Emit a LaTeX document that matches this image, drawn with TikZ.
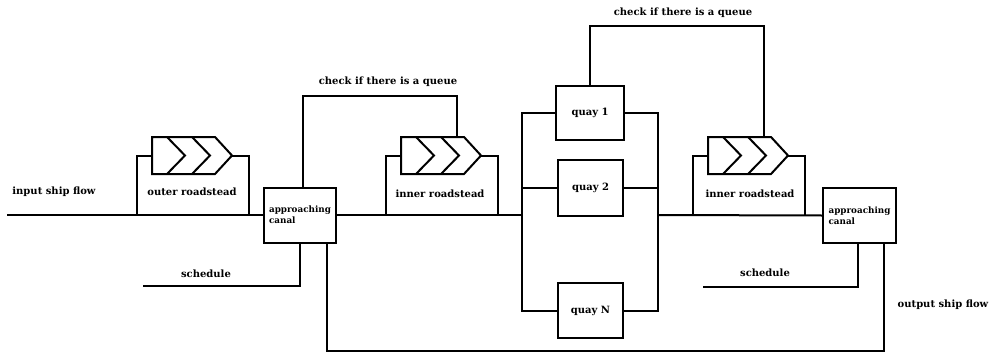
\documentclass[tikz,border=0pt]{standalone}
\usepackage{fontspec}
\setmainfont{DejaVu Serif}
\begin{document}
\begin{tikzpicture}[x=1pt,y=-1pt,line width=2pt,line join=miter,
  lbl/.style={font=\bfseries\fontsize{10}{11.5}\selectfont,inner sep=0pt},
  canal/.style={font=\bfseries\fontsize{8.8}{11}\selectfont,align=left},
  blk/.style={draw,rectangle,inner sep=0pt,line width=2pt},
  qbox/.style={rectangle,inner sep=0pt,minimum width=78pt,minimum height=35pt}]
\useasboundingbox (0,0) rectangle (995,353);

% waiting-area queue symbol: box with pointed head and two chevrons
\newcommand\qsym[1]{%
  \draw (#1.north west) -- ([xshift=63pt]#1.north west) -- (#1.east)
        -- ([xshift=63pt]#1.south west) -- (#1.south west) -- cycle;
  \draw ([xshift=15pt]#1.north west) -- ([xshift=33pt]#1.west) -- ([xshift=15pt]#1.south west);
  \draw ([xshift=40pt]#1.north west) -- ([xshift=58pt]#1.west) -- ([xshift=40pt]#1.south west);}

% canal boxes
\node[blk,canal,minimum width=72pt,minimum height=55pt] (ac1) at (300,215) {approaching\\canal};
\node[blk,canal,minimum width=73pt,minimum height=55pt] (ac2) at (859.5,215.5) {approaching\\canal};

% quays
\node[blk,lbl,minimum width=68pt,minimum height=54pt] (q1) at (590,113) {quay 1};
\node[blk,lbl,minimum width=65pt,minimum height=56pt] (q2) at (590.5,188) {quay 2};
\node[blk,lbl,minimum width=65pt,minimum height=55pt] (qN) at (590.5,310.5) {quay N};

% roadsteads
\node[qbox] (or) at (192,155.5) {};
\node[qbox] (ir1) at (441,155.5) {};
\node[qbox] (ir2) at (748,155.5) {};
\qsym{or}\qsym{ir1}\qsym{ir2}

% junction and end points
\coordinate (in) at (7,215);
\coordinate (orL) at (137,215);
\coordinate (orR) at (249,215);
\coordinate (irL1) at (386,215);
\coordinate (irR1) at (498,215);
\coordinate (irL2) at (693,215);
\coordinate (irR2) at (805,215);
\coordinate (sL) at (522,215);
\coordinate (sR) at (658,215);
\coordinate (chk1) at (303,96);
\coordinate (chk2) at (591,26);
\coordinate (sch1) at (143,286);
\coordinate (sch2) at (703,287);
\coordinate (ret) at (600,351);

% main flow
\draw (in) -- (ac1.west);
\draw (ac1.east) -- (sL);
\draw (sR) -- (ac2.west);

% roadstead by-pass brackets
\draw (or.west) -| (orL);  \draw (or.east) -| (orR);
\draw (ir1.west) -| (irL1); \draw (ir1.east) -| (irR1);
\draw (ir2.west) -| (irL2); \draw (ir2.east) -| (irR2);

% parallel quays
\draw (q1.west) -- (q1.west -| sL) -- (qN.west -| sL) -- (qN.west);
\draw (q2.west) -- (q2.west -| sL);
\draw (q1.east) -- (q1.east -| sR) -- (qN.east -| sR) -- (qN.east);
\draw (q2.east) -- (q2.east -| sR);

% queue checks
\draw ([xshift=3pt]ac1.north) |- (chk1) -| ([xshift=16pt]ir1.north);
\draw (q1.north) |- (chk2) -| ([xshift=16pt]ir2.north);

% schedules and output
\draw (sch1) -| (ac1.south);
\draw (sch2) -| ([xshift=-1.5pt]ac2.south);
\draw ([xshift=27pt]ac1.south) |- (ret) -| ([xshift=24.5pt]ac2.south);

% labels
\node[lbl] (t1) at (54,192) {input ship flow};
\node[lbl] (t2) at (192,192) {outer roadstead};
\node[lbl] (t3) at (206,274) {schedule};
\node[lbl] (t4) at (388,82) {check if there is a queue};
\node[lbl] (t5) at (440,194) {inner roadstead};
\node[lbl] (t6) at (683,13) {check if there is a queue};
\node[lbl] (t7) at (750,194) {inner roadstead};
\node[lbl] (t8) at (765,273) {schedule};
\node[lbl] (t9) at (943,305) {output ship flow};
\end{tikzpicture}
\end{document}
